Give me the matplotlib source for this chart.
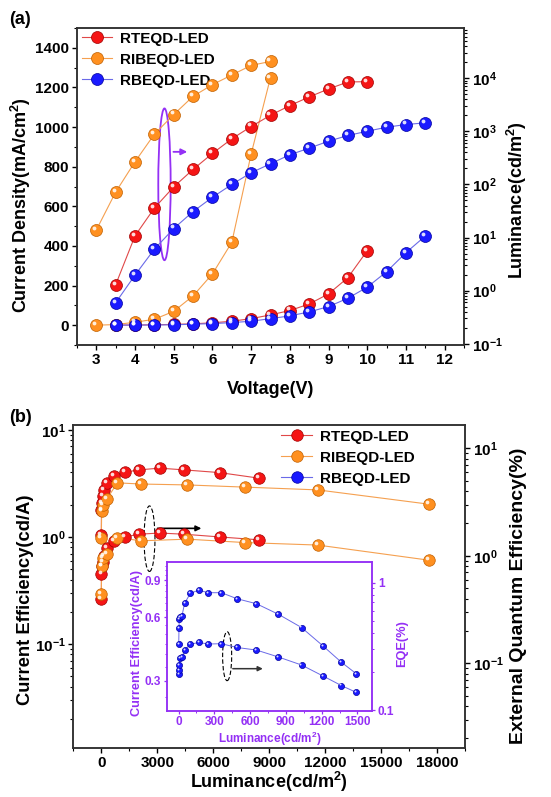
import numpy as np
import matplotlib.pyplot as plt
from matplotlib import transforms
from matplotlib.lines import Line2D
from matplotlib.patches import Ellipse
from matplotlib.ticker import MultipleLocator, LogLocator, FixedLocator, FixedFormatter, NullFormatter

plt.rcParams['font.family'] = ['Liberation Sans', 'DejaVu Sans']
plt.rcParams['font.weight'] = 'bold'
plt.rcParams['axes.labelweight'] = 'bold'
plt.rcParams['mathtext.fontset'] = 'custom'
plt.rcParams['mathtext.rm'] = 'Liberation Sans:bold'
plt.rcParams['mathtext.bf'] = 'Liberation Sans:bold'
plt.rcParams['mathtext.it'] = 'Liberation Sans:bold'
plt.rcParams['axes.linewidth'] = 1.1
plt.rcParams['axes.edgecolor'] = '#303030'

# ---- (a) J-V-L data ----
v_rte = [3.5, 4.0, 4.5, 5.0, 5.5, 6.0, 6.5, 7.0, 7.5, 8.0, 8.5, 9.0, 9.5, 10.0]
j_rte = [0.5, 1, 2, 4, 7, 12, 20, 33, 52, 74, 107, 158, 240, 376]
l_rte = [1.3, 10.8, 36, 90, 192, 383, 722, 1230, 2005, 3050, 4440, 6270, 8490, 8590]

v_ribe = [3.0, 3.5, 4.0, 4.5, 5.0, 5.5, 6.0, 6.5, 7.0, 7.5]
j_ribe = [0, 3, 15, 30, 70, 148, 259, 418, 864, 1250]
l_ribe = [13.9, 72, 268, 883, 2070, 4560, 7550, 11480, 17400, 20660]

v_rbe = [3.5, 4.0, 4.5, 5.0, 5.5, 6.0, 6.5, 7.0, 7.5, 8.0, 8.5, 9.0, 9.5, 10.0, 10.5, 11.0, 11.5]
j_rbe = [0.3, 0.5, 1, 2, 5, 8, 13, 20, 33, 47, 67, 94, 136, 192, 270, 366, 450]
l_rbe = [0.595, 1.97, 6.06, 14.8, 30.9, 57.3, 100, 166, 245, 362, 482, 652, 834, 1004, 1194, 1342, 1443]

# ---- (b) efficiency data ----
lum_rte = [2, 10, 30, 70, 150, 300, 700, 1250, 2020, 3130, 4430, 6340, 8450]
ce_rte = [1.04, 1.8, 2.07, 2.4, 2.75, 3.18, 3.72, 4.02, 4.23, 4.39, 4.23, 3.99, 3.54]
eqe_rte = [0.40, 0.68, 0.80, 0.87, 1.0, 1.19, 1.38, 1.50, 1.59, 1.63, 1.59, 1.50, 1.41]

lum_ribe = [3, 20, 100, 290, 860, 2140, 4610, 7680, 11610, 17590]
ce_ribe = [0.97, 1.74, 2.0, 2.25, 3.2, 3.12, 3.06, 2.92, 2.75, 2.02]
eqe_ribe = [0.44, 0.81, 0.95, 1.04, 1.48, 1.38, 1.43, 1.33, 1.26, 0.91]

# inset (RBEQD-LED)
lum_in = [1, 3, 6, 14, 28, 50, 98, 168, 247, 359, 490, 653, 838, 1031, 1208, 1365, 1489]
ce_in = [0.448, 0.531, 0.588, 0.598, 0.608, 0.698, 0.778, 0.807, 0.784, 0.784, 0.734, 0.695, 0.619, 0.536, 0.440, 0.367, 0.324]
eqe_in = [0.191, 0.206, 0.226, 0.255, 0.259, 0.296, 0.328, 0.340, 0.330, 0.332, 0.310, 0.296, 0.261, 0.226, 0.186, 0.156, 0.138]

labels = ['RTEQD-LED', 'RIBEQD-LED', 'RBEQD-LED']
face = ['#f51515', '#ff9020', '#1a1aff']
edge = ['#a00000', '#c06000', '#0000a0']
lcol = ['#e04848', '#f5a050', '#6a6ae8']
purple = '#9430f5'

fig = plt.figure(figsize=(5.51, 7.97), dpi=100)


def balls(ax, x, y, k, ms=8.6, lw=0.8):
    ax.plot(x, y, '-', color=lcol[k], lw=lw, zorder=2)
    ax.plot(x, y, 'o', ms=ms, mfc=face[k], mec=edge[k], mew=0.5, zorder=3)
    hl = transforms.offset_copy(ax.transData, fig=fig, x=-ms * 0.17, y=ms * 0.17, units='points')
    ax.plot(x, y, 'o', ms=ms * 0.32, mfc='white', mec='none', alpha=0.85, transform=hl, zorder=4)


def handle(k, ms=8.6):
    return Line2D([], [], color=lcol[k], lw=0.8, marker='o', ms=ms, mfc=face[k], mec=edge[k], mew=0.5)


# ================= (a) =================
W, H = 551, 797
ax = fig.add_axes([77 / W, 1 - 345 / H, 387 / W, 317 / H])
ax2 = ax.twinx()

balls(ax, v_rte, j_rte, 0)
balls(ax, v_ribe, j_ribe, 1)
balls(ax, v_rbe, j_rbe, 2)
balls(ax2, v_rte, l_rte, 0)
balls(ax2, v_ribe, l_ribe, 1)
balls(ax2, v_rbe, l_rbe, 2)

ax.set_xlim(2.5, 12.5)
ax.set_ylim(-100, 1500)
ax.xaxis.set_major_locator(MultipleLocator(1))
ax.xaxis.set_minor_locator(MultipleLocator(0.5))
ax.yaxis.set_major_locator(MultipleLocator(200))
ax.yaxis.set_minor_locator(MultipleLocator(100))
ax2.set_yscale('log')
ax2.set_ylim(0.095, 8.8e4)
ax2.yaxis.set_major_locator(LogLocator(base=10, numticks=20))
ax2.yaxis.set_minor_locator(LogLocator(base=10, subs=np.arange(2, 10), numticks=20))
ax2.yaxis.set_minor_formatter(NullFormatter())

for a in (ax, ax2):
    a.tick_params(which='major', direction='out', length=3.5, width=1, labelsize=11, pad=2)
    a.tick_params(which='minor', direction='out', length=2, width=0.8)

ax.set_xlabel('Voltage(V)', fontsize=13)
ax.xaxis.set_label_coords(0.5, -0.113)
ax.set_ylabel(r'Current Density(mA/cm$^{2}$)', fontsize=13)
ax.yaxis.set_label_coords(-0.114, 0.44)
ax2.set_ylabel(r'Luminance(cd/m$^{2}$)', fontsize=13)
ax2.yaxis.set_label_coords(1.106, 0.457)

ax.add_patch(Ellipse((4.76, 711), 0.32, 766, fill=False, ec=purple, lw=1.3, zorder=5))
ax.annotate('', xy=(5.42, 875), xytext=(4.92, 875),
            arrowprops=dict(arrowstyle='-|>', color=purple, lw=1.3, mutation_scale=9), zorder=5)

ax.legend([handle(i) for i in range(3)], labels, loc='upper left', bbox_to_anchor=(-0.016, 1.022),
          frameon=False, fontsize=11, handlelength=2.0, handletextpad=0.5,
          labelspacing=0.46, borderaxespad=0.3)
fig.text(20 / W, 1 - 19 / H, '(a)', fontsize=13, ha='center', va='center')

# ================= (b) =================
bx = fig.add_axes([73.3 / W, 1 - 748 / H, 391.7 / W, 323 / H])
bx2 = bx.twinx()

balls(bx, lum_rte, ce_rte, 0, ms=8.3)
balls(bx, lum_ribe, ce_ribe, 1, ms=8.3)
balls(bx2, lum_rte, eqe_rte, 0, ms=8.3)
balls(bx2, lum_ribe, eqe_ribe, 1, ms=8.3)

bx.set_xlim(-1500, 19500)
bx.xaxis.set_major_locator(MultipleLocator(3000))
bx.xaxis.set_minor_locator(MultipleLocator(1500))
bx.set_yscale('log')
bx.set_ylim(0.0107, 11.1)
bx2.set_yscale('log')
bx2.set_ylim(0.0163, 16.5)
for a in (bx, bx2):
    a.yaxis.set_major_locator(LogLocator(base=10, numticks=20))
    a.yaxis.set_minor_locator(LogLocator(base=10, subs=np.arange(2, 10), numticks=20))
    a.yaxis.set_minor_formatter(NullFormatter())
    a.tick_params(which='major', direction='out', length=3.5, width=1, labelsize=11, pad=2)
    a.tick_params(which='minor', direction='out', length=2, width=0.8)

bx.set_xlabel(r'Luminance(cd/m$^{2}$)', fontsize=13)
bx.xaxis.set_label_coords(0.5, -0.068)
bx.set_ylabel('Current Efficiency(cd/A)', fontsize=13.2)
bx.yaxis.set_label_coords(-0.1, 0.46)
bx2.set_ylabel('External Quantum Efficiency(%)', fontsize=14)
bx2.yaxis.set_label_coords(1.115, 0.47)

bx.add_patch(Ellipse((0.1945, 0.648), 0.028, 0.203, transform=bx.transAxes, fill=False,
                     ec='black', lw=0.8, ls=(0, (4, 2)), zorder=5))
bx.annotate('', xy=(0.334, 0.68), xytext=(0.208, 0.68), xycoords='axes fraction',
            arrowprops=dict(arrowstyle='-|>', color='black', lw=1.2, mutation_scale=8), zorder=5)

bx.legend([handle(i, 8.3) for i in range(3)], labels, loc='upper left', bbox_to_anchor=(0.504, 1.019),
          frameon=False, fontsize=11, handlelength=2.0, handletextpad=0.5,
          labelspacing=0.46, borderaxespad=0.3)
fig.text(20 / W, 1 - 418 / H, '(b)', fontsize=13, ha='center', va='center')

# ---- inset ----
ix = fig.add_axes([166.7 / W, 1 - 710.7 / H, 205.6 / W, 149 / H])
ix2 = ix.twinx()
balls(ix, lum_in, ce_in, 2, ms=4.4, lw=0.7)
balls(ix2, lum_in, eqe_in, 2, ms=4.4, lw=0.7)

ix.set_xlim(-100, 1625)
ix.xaxis.set_major_locator(MultipleLocator(300))
ix.xaxis.set_minor_locator(MultipleLocator(150))
ix.set_yscale('log')
ix.set_ylim(0.216, 1.1)
ix.yaxis.set_major_locator(FixedLocator([0.3, 0.6, 0.9]))
ix.yaxis.set_major_formatter(FixedFormatter(['0.3', '0.6', '0.9']))
ix.yaxis.set_minor_locator(FixedLocator([0.25, 0.35, 0.4, 0.45, 0.5, 0.55, 0.65, 0.7, 0.75, 0.8, 0.85, 0.95, 1.0, 1.05]))
ix.yaxis.set_minor_formatter(NullFormatter())
ix2.set_yscale('log')
ix2.set_ylim(0.099, 1.46)
ix2.yaxis.set_major_locator(FixedLocator([0.1, 1.0]))
ix2.yaxis.set_major_formatter(FixedFormatter(['0.1', '1']))
ix2.yaxis.set_minor_locator(LogLocator(base=10, subs=np.arange(2, 10), numticks=20))
ix2.yaxis.set_minor_formatter(NullFormatter())

for a in (ix, ix2):
    for s in a.spines.values():
        s.set_color(purple)
    a.tick_params(which='major', direction='out', length=2.5, width=0.9, labelsize=8.5,
                  colors=purple, pad=1.5)
    a.tick_params(which='minor', direction='out', length=1.5, width=0.7, colors=purple)

ix.set_xlabel(r'Luminance(cd/m$^{2}$)', fontsize=8.5, color=purple)
ix.xaxis.set_label_coords(0.5, -0.13)
ix.set_ylabel('Current Efficiency(cd/A)', fontsize=9.2, color=purple)
ix.yaxis.set_label_coords(-0.115, 0.454)
ix2.set_ylabel('EQE(%)', fontsize=9.2, color=purple)
ix2.yaxis.set_label_coords(1.115, 0.452)

ix.add_patch(Ellipse((0.294, 0.366), 0.044, 0.329, transform=ix.transAxes, fill=False,
                     ec='black', lw=0.8, ls=(0, (4, 2)), zorder=5))
ix.annotate('', xy=(0.481, 0.282), xytext=(0.308, 0.282), xycoords='axes fraction',
            arrowprops=dict(arrowstyle='-|>', color='#333333', lw=1.1, mutation_scale=7), zorder=5)

fig.savefig('out.png', dpi=100)
